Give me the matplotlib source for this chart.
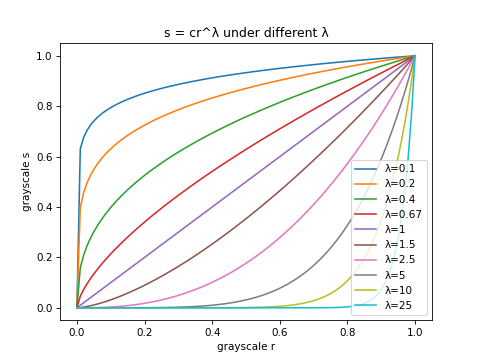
import numpy as np
import matplotlib
matplotlib.use("Agg")
import matplotlib.pyplot as plt

# gamma values shown in the legend
lambdas = [0.1, 0.2, 0.4, 0.67, 1, 1.5, 2.5, 5, 10, 25]
labels = ["0.1", "0.2", "0.4", "0.67", "1", "1.5", "2.5", "5", "10", "25"]
c = 1.0

# grayscale input sampled on a 0.01 grid
r = np.linspace(0, 1, 101)

fig = plt.figure(figsize=(6.4, 4.8), dpi=75)
for lam, lab in zip(lambdas, labels):
    s = c * r ** lam
    plt.plot(r, s, label="\u03bb=" + lab)

plt.title("s = cr^\u03bb under different \u03bb")
plt.xlabel("grayscale r")
plt.ylabel("grayscale s")
plt.legend(loc="lower right")
plt.savefig("out.png", dpi=75)
